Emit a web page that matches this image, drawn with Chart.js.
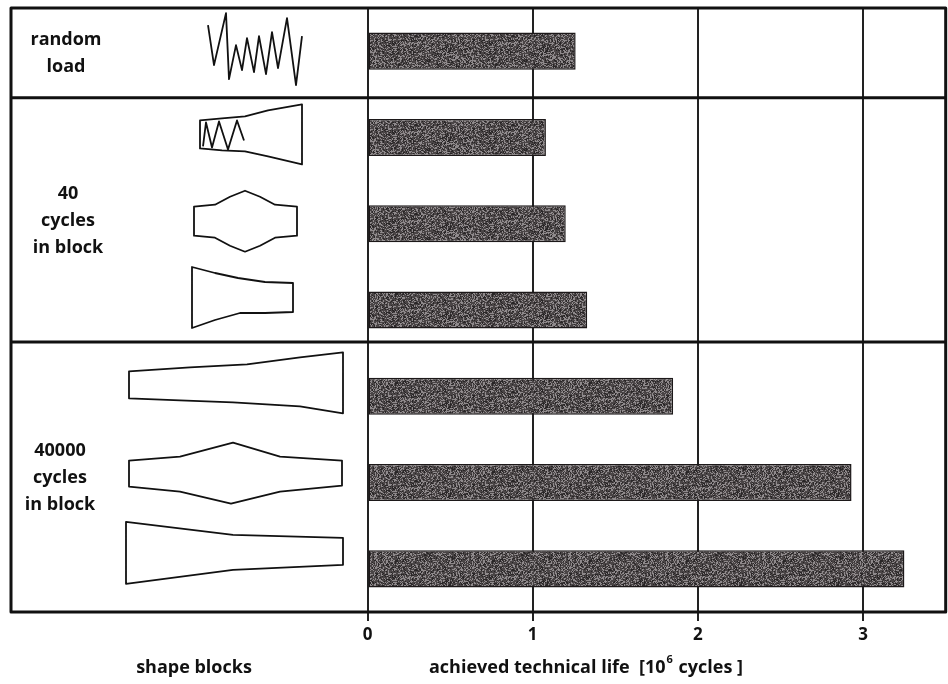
<!DOCTYPE html>
<html>
<head>
<meta charset="utf-8">
<script src="https://cdn.jsdelivr.net/npm/chart.js@4.4.0/dist/chart.umd.min.js"></script>
<style>
html, body { margin: 0; padding: 0; background: #fff; }
#wrap { width: 948px; height: 684px; }
</style>
</head>
<body>
<div id="wrap"><canvas id="myChart"></canvas></div>
<script>
// data
var categories = ['random load', '40 / ramp + overload', '40 / bulge', '40 / taper',
                  '40000 / ramp', '40000 / bulge', '40000 / taper'];
var lifeValues = [1.26, 1.08, 1.20, 1.33, 1.85, 2.93, 3.25];
var tickValues = [0, 1, 2, 3];
var groupLabels = [['random', 'load'], ['40', 'cycles', 'in block'], ['40000', 'cycles', 'in block']];
var axisTitle = ['achieved technical life  [10', '6', ' cycles ]'];
var leftTitle = 'shape blocks';

var FONT = '"Open Sans", "DejaVu Sans", sans-serif';

// grainy dark fill like the scanned bars
function makeTexture() {
    var c = document.createElement('canvas');
    c.width = 97; c.height = 89;
    var g = c.getContext('2d');
    g.fillStyle = '#4a4546';
    g.fillRect(0, 0, c.width, c.height);
    var seed = 12345;
    for (var y = 0; y < c.height; y++) {
        for (var x = 0; x < c.width; x++) {
            seed = (seed * 16807) % 2147483647;
            var r = seed / 2147483647;
            if (r < 0.32) {
                g.fillStyle = 'rgba(200,194,198,0.55)';
                g.fillRect(x, y, 1, 1);
            } else if (r < 0.5) {
                g.fillStyle = 'rgba(15,12,14,0.55)';
                g.fillRect(x, y, 1, 1);
            }
        }
    }
    return g.createPattern(c, 'repeat');
}

// outlines of the specimens, x in px, y relative to the bar centre
var shapes = [
    {line: [[208,-26],[214,14],[226,-38],[229,28],[236,-6],[242,19],[247,-13],[254,21],[259,-15],[266,23],[272,-19],[278,17],[287,-33],[296,34],[302,-15]]},
    {poly: [[200,-17],[222,-19],[245,-21],[268,-27],[302,-33],[302,27],[268,19],[245,14],[222,13],[200,11]],
     line: [[203,9],[206,-15],[212,10],[219,-16],[228,12],[237,-17],[244,3]]},
    {poly: [[194,-17],[215,-19],[230,-27],[245,-33],[260,-27],[275,-19],[297,-17],[297,12],[275,14],[260,22],[245,28],[230,22],[215,14],[194,12]]},
    {poly: [[192,-43],[215,-37],[238,-32],[265,-28],[293,-27],[293,2],[265,3],[240,3],[215,10],[192,18]]},
    {poly: [[129,-25],[190,-29],[247,-32],[300,-39],[343,-44],[343,17],[300,10],[233,6],[180,4],[129,2]]},
    {poly: [[129,-22],[180,-26],[233,-40],[280,-26],[342,-22],[342,3],[280,9],[231,21],[180,9],[129,4]]},
    {poly: [[126,-47],[233,-34],[343,-31],[343,-4],[233,1],[126,15]]}
];

var framePlugin = {
    id: 'frame',
    afterDraw: function (chart) {
        var ctx = chart.ctx;
        var yScale = chart.scales.y;
        ctx.save();
        ctx.strokeStyle = '#111';
        ctx.lineJoin = 'round';

        // specimen sketches
        ctx.lineWidth = 1.8;
        shapes.forEach(function (s, i) {
            var cy = yScale.getPixelForValue(i);
            if (s.poly) {
                ctx.beginPath();
                s.poly.forEach(function (p, k) {
                    if (k === 0) ctx.moveTo(p[0], cy + p[1]); else ctx.lineTo(p[0], cy + p[1]);
                });
                ctx.closePath();
                ctx.stroke();
            }
            if (s.line) {
                ctx.beginPath();
                s.line.forEach(function (p, k) {
                    if (k === 0) ctx.moveTo(p[0], cy + p[1]); else ctx.lineTo(p[0], cy + p[1]);
                });
                ctx.stroke();
            }
        });

        // outer frame and group separators
        var top = chart.chartArea.top, bottom = chart.chartArea.bottom;
        var left = 11, right = chart.chartArea.right;
        ctx.lineWidth = 3;
        ctx.strokeRect(left, top, right - left, bottom - top);
        [0.54, 3.37].forEach(function (v) {
            var y = yScale.getPixelForValue(v);
            ctx.beginPath();
            ctx.moveTo(left, y);
            ctx.lineTo(right, y);
            ctx.stroke();
        });

        // group labels
        ctx.fillStyle = '#111';
        ctx.font = 'bold 18px ' + FONT;
        ctx.textAlign = 'center';
        ctx.textBaseline = 'middle';
        var groupPos = [[66, 40], [68, 194], [60, 451]];
        groupLabels.forEach(function (lines, g) {
            lines.forEach(function (t, k) {
                ctx.fillText(t, groupPos[g][0], groupPos[g][1] + k * 27);
            });
        });

        // bottom texts
        var ty = 668;
        ctx.fillText(leftTitle, 194, ty);
        ctx.textAlign = 'left';
        var w1 = ctx.measureText(axisTitle[0]).width;
        var w3 = ctx.measureText(axisTitle[2]).width;
        ctx.font = 'bold 11px ' + FONT;
        var w2 = ctx.measureText(axisTitle[1]).width + 2;
        var x0 = 586 - (w1 + w2 + w3) / 2;
        ctx.font = 'bold 18px ' + FONT;
        ctx.fillText(axisTitle[0], x0, ty);
        ctx.font = 'bold 11px ' + FONT;
        ctx.fillText(axisTitle[1], x0 + w1 + 1, ty - 8);
        ctx.font = 'bold 18px ' + FONT;
        ctx.fillText(axisTitle[2], x0 + w1 + w2, ty);
        ctx.restore();
    }
};

var ctx = document.getElementById('myChart').getContext('2d');
var myChart = new Chart(ctx, {
    type: 'bar',
    data: {
        labels: categories,
        datasets: [{
            label: 'achieved technical life',
            data: lifeValues,
            backgroundColor: makeTexture(),
            borderColor: '#1c1819',
            borderWidth: 1.5,
            borderSkipped: false,
            barPercentage: 0.43,
            categoryPercentage: 1.0
        }]
    },
    options: {
        indexAxis: 'y',
        responsive: true,
        maintainAspectRatio: false,
        animation: false,
        plugins: {
            legend: { display: false },
            tooltip: { enabled: false }
        },
        layout: {
            padding: { left: 367.5, right: 2.3, top: 8, bottom: 0 }
        },
        scales: {
            x: {
                type: 'linear',
                min: 0,
                max: 3.5,
                afterBuildTicks: function (axis) {
                    axis.ticks = tickValues.map(function (v) { return { value: v }; });
                },
                afterFit: function (axis) { axis.height = 72; },
                ticks: {
                    color: '#111',
                    padding: 4,
                    font: { family: FONT, size: 17, weight: 'bold' }
                },
                grid: {
                    color: '#222',
                    lineWidth: 2,
                    drawTicks: true,
                    tickLength: 9,
                    tickColor: '#222',
                    tickWidth: 2
                },
                border: { display: false }
            },
            y: {
                display: false
            }
        }
    },
    plugins: [framePlugin]
});
</script>
</body>
</html>
